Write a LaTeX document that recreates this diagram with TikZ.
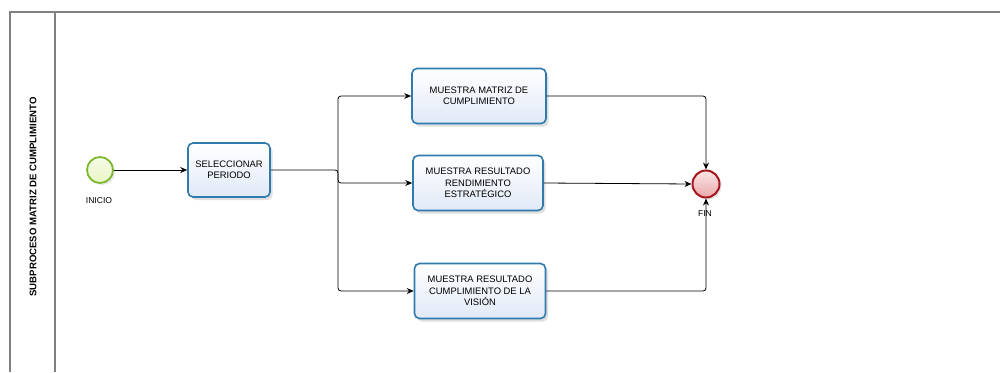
\documentclass[tikz,border=0pt]{standalone}
\usepackage{fontspec}
\setmainfont{Liberation Sans}
\usetikzlibrary{arrows.meta,shadows,calc}
\definecolor{poolgray}{HTML}{808080}
\definecolor{taskblue}{HTML}{2F7BAE}
\definecolor{taskfill}{HTML}{E1E9F7}
\definecolor{startgreen}{HTML}{7CB82F}
\definecolor{startfill}{HTML}{E9F5C4}
\definecolor{endred}{HTML}{A5161E}
\definecolor{endfill}{HTML}{EBA9AC}
\tikzset{
  task/.style={draw=taskblue, line width=1.6pt, rounded corners=5pt,
    top color=white, bottom color=taskfill, minimum width=132pt, minimum height=55pt,
    align=center, font=\fontsize{9.4}{11.5}\selectfont, inner sep=2pt,
    drop shadow={shadow xshift=2.5pt, shadow yshift=-3pt, opacity=0.25}},
  startev/.style={circle, draw=startgreen, line width=1.8pt, minimum size=26pt,
    inner sep=0pt, top color=white!60!startfill, bottom color=startfill,
    drop shadow={shadow xshift=2pt, shadow yshift=-2pt, opacity=0.2}},
  endev/.style={circle, draw=endred, line width=2pt, minimum size=27pt,
    inner sep=0pt, top color=white!70!endfill, bottom color=endfill,
    drop shadow={shadow xshift=2pt, shadow yshift=-2pt, opacity=0.2}},
  evlabel/.style={font=\fontsize{8.6}{9}\selectfont, inner sep=0pt},
  flow/.style={draw=black, line width=0.8pt, rounded corners=3pt,
    -{Stealth[length=7pt,width=6pt]}},
  pool/.style={draw=poolgray, line width=1.3pt}
}
\begin{document}
\begin{tikzpicture}[x=1pt,y=-1pt]
  \useasboundingbox (0,0) rectangle (1000,372);
  % pool frame and lane header
  \draw[pool] (1000,12) -- (10,12) -- (10,372);
  \draw[pool] (55,12) -- (55,372);
  \node[rotate=90, font=\bfseries\fontsize{9.6}{10}\selectfont] (poolname) at (33,197)
    {SUBPROCESO MATRIZ DE CUMPLIMIENTO};

  % events
  \node[startev] (inicio) at (100,170) {};
  \node[evlabel] (inicioL) at (99,201) {INICIO};
  \node[endev] (fin) at (706,184) {};
  \node[evlabel] (finL) at (705,214) {FIN};

  % tasks
  \node[task, minimum width=82pt, minimum height=54pt] (sel) at (229,170) {SELECCIONAR\\PERIODO};
  \node[task, minimum width=134pt] (matriz) at (479,96) {MUESTRA MATRIZ DE\\CUMPLIMIENTO};
  \node[task, minimum width=130pt] (rend) at (478,183) {MUESTRA RESULTADO\\RENDIMIENTO\\ESTRATÉGICO};
  \node[task, minimum width=131pt] (vision) at (480,291) {MUESTRA RESULTADO\\CUMPLIMIENTO DE LA\\VISIÓN};

  % sequence flows
  \coordinate (split) at (338,170);
  \draw[flow] (inicio) -- (sel);
  \draw[flow] (sel.east) -- (split) |- (rend.west);
  \draw[flow] (split) |- (matriz.west);
  \draw[flow] (split) |- (vision.west);
  \draw[flow] (matriz.east) -| (fin.north);
  \draw[flow] (rend.east) -- (fin.west);
  \draw[flow] (vision.east) -| (fin.south);
\end{tikzpicture}
\end{document}
